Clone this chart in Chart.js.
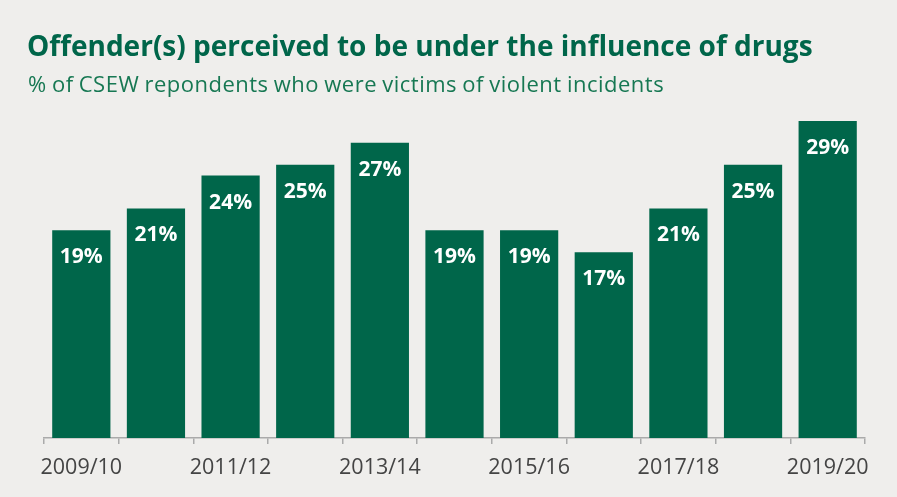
<!DOCTYPE html>
<html>
<head>
<meta charset="utf-8">
<script src="https://cdn.jsdelivr.net/npm/chart.js@4/dist/chart.umd.min.js"></script>
<style>
  html, body { margin: 0; padding: 0; background: #efeeec; }
  #wrap { width: 897px; height: 497px; position: relative; }
</style>
</head>
<body>
<div id="wrap"><canvas id="chart" width="897" height="497"></canvas></div>
<script>
// Survey years (CSEW)
const years = ['2009/10', '2010/11', '2011/12', '2012/13', '2013/14', '2014/15',
               '2015/16', '2016/17', '2017/18', '2018/19', '2019/20'];
// % of violent-incident victims who perceived the offender(s) to be under the influence of drugs
const drugPct = [19, 21, 24, 25, 27, 19, 19, 17, 21, 25, 29];
// Only every other year is labelled on the axis
const shownYears = ['2009/10', '2011/12', '2013/14', '2015/16', '2017/18', '2019/20'];

const titleText = 'Offender(s) perceived to be under the influence of drugs';
const subtitleText = '% of CSEW repondents who were victims of violent incidents';

const GREEN = '#00664a';

// Heading and subheading drawn above the plot
const headingPlugin = {
  id: 'heading',
  beforeDraw(chart) {
    const ctx = chart.ctx;
    ctx.save();
    ctx.textAlign = 'left';
    ctx.textBaseline = 'alphabetic';
    ctx.fillStyle = GREEN;
    ctx.font = 'bold 28px "Open Sans"';
    ctx.fillText(titleText, 27, 56);
    ctx.fillStyle = '#177853';
    ctx.font = '22px "Open Sans"';
    if ('letterSpacing' in ctx) ctx.letterSpacing = '0.5px';
    if ('wordSpacing' in ctx) ctx.wordSpacing = '-1px';
    ctx.fillText(subtitleText, 28, 91.5);
    ctx.restore();
  }
};

// White percentage labels inside the top of each bar
const valueLabels = {
  id: 'valueLabels',
  afterDatasetsDraw(chart) {
    const ctx = chart.ctx;
    const meta = chart.getDatasetMeta(0);
    ctx.save();
    ctx.fillStyle = '#ffffff';
    ctx.font = 'bold 21px "Open Sans"';
    ctx.textAlign = 'center';
    ctx.textBaseline = 'middle';
    meta.data.forEach((bar, i) => {
      ctx.fillText(drugPct[i] + '%', bar.x, bar.y + 27);
    });
    ctx.restore();
  }
};

new Chart(document.getElementById('chart'), {
  type: 'bar',
  data: {
    labels: years,
    datasets: [{
      data: drugPct,
      backgroundColor: GREEN,
      borderWidth: 0,
      categoryPercentage: 1.0,
      barPercentage: 0.78
    }]
  },
  options: {
    responsive: false,
    animation: false,
    layout: { padding: { top: 110, left: 44, right: 32, bottom: 0 } },
    plugins: {
      legend: { display: false },
      tooltip: { enabled: false },
      title: { display: false }
    },
    scales: {
      x: {
        offset: true,
        afterFit(scale) { scale.height = 59; },
        grid: {
          display: true,
          offset: true,
          drawOnChartArea: false,
          drawTicks: true,
          tickLength: 6,
          color: '#aaaaaa',
          lineWidth: 1.5
        },
        border: { display: true, color: '#aaaaaa', width: 1.5 },
        ticks: {
          autoSkip: false,
          maxRotation: 0,
          padding: 11,
          color: '#444444',
          font: { family: '"Open Sans"', size: 21.5 },
          callback(value, index) {
            const lab = years[index];
            return shownYears.includes(lab) ? lab : '';
          }
        }
      },
      y: {
        display: false,
        min: 0,
        max: 30
      }
    }
  },
  plugins: [headingPlugin, valueLabels]
});
</script>
</body>
</html>
